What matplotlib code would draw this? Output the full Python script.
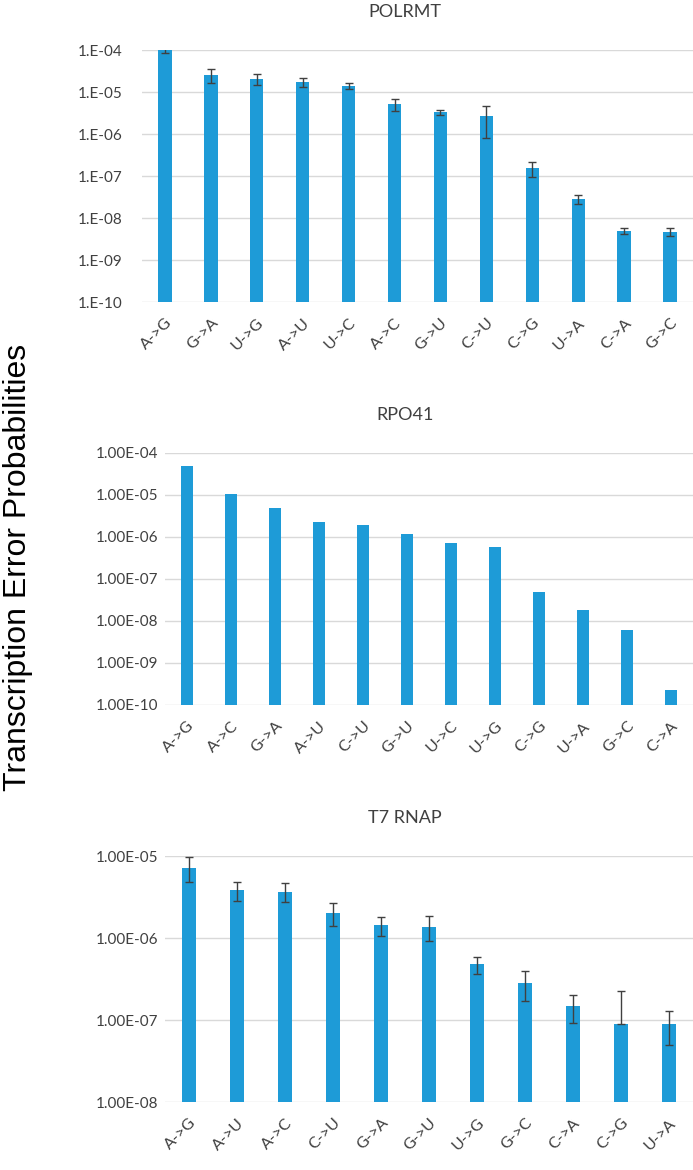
import numpy as np
import matplotlib
matplotlib.use("Agg")
import matplotlib.pyplot as plt

# POLRMT
polrmt_labels = ["A->G", "G->A", "U->G", "A->U", "U->C", "A->C", "G->U", "C->U", "C->G", "U->A", "C->A", "G->C"]
polrmt_values = [1.0e-4, 2.6e-5, 2.07e-5, 1.73e-5, 1.39e-5, 5.15e-6, 3.26e-6, 2.72e-6, 1.53e-7, 2.9e-8, 5.0e-9, 4.67e-9]
polrmt_err = [1.4e-5, 1.0e-5, 0.6e-5, 0.4e-5, 0.22e-5, 1.7e-6, 0.45e-6, 1.9e-6, 0.6e-7, 0.7e-8, 0.8e-9, 1.0e-9]
polrmt_ticks = [1e-10, 1e-9, 1e-8, 1e-7, 1e-6, 1e-5, 1e-4]
polrmt_ticklabels = ["1.E-10", "1.E-09", "1.E-08", "1.E-07", "1.E-06", "1.E-05", "1.E-04"]

# RPO41 (no error bars)
rpo41_labels = ["A->G", "A->C", "G->A", "A->U", "C->U", "G->U", "U->C", "U->G", "C->G", "U->A", "G->C", "C->A"]
rpo41_values = [4.82e-5, 1.04e-5, 4.84e-6, 2.25e-6, 1.87e-6, 1.19e-6, 7.0e-7, 5.6e-7, 4.87e-8, 1.79e-8, 5.98e-9, 2.24e-10]
rpo41_ticks = [1e-10, 1e-9, 1e-8, 1e-7, 1e-6, 1e-5, 1e-4]
rpo41_ticklabels = ["1.00E-10", "1.00E-09", "1.00E-08", "1.00E-07", "1.00E-06", "1.00E-05", "1.00E-04"]

# T7 RNAP
t7_labels = ["A->G", "A->U", "A->C", "C->U", "G->A", "G->U", "U->G", "G->C", "C->A", "C->G", "U->A"]
t7_values = [7.08e-6, 3.82e-6, 3.68e-6, 2.04e-6, 1.43e-6, 1.38e-6, 4.79e-7, 2.86e-7, 1.47e-7, 9.0e-8, 8.83e-8]
t7_err_low = [2.3e-6, 1.0e-6, 0.97e-6, 0.64e-6, 0.38e-6, 0.46e-6, 1.1e-7, 1.15e-7, 0.56e-7, 0.0, 3.9e-8]
t7_err_high = [2.6e-6, 0.96e-6, 0.97e-6, 0.64e-6, 0.38e-6, 0.48e-6, 1.15e-7, 1.15e-7, 0.56e-7, 1.37e-7, 4.1e-8]
t7_ticks = [1e-8, 1e-7, 1e-6, 1e-5]
t7_ticklabels = ["1.00E-08", "1.00E-07", "1.00E-06", "1.00E-05"]

bar_color = "#1E9BD7"
text_color = "#404040"
tick_font = ["Lato", "DejaVu Sans"]

fig = plt.figure(figsize=(6.93, 11.7), dpi=100)


def panel(rect, labels, values, ticks, ticklabels, ylim, title, err=None, width=0.28, pad=5):
    ax = fig.add_axes(rect)
    x = np.arange(len(labels))
    ax.bar(x, values, width=width, color=bar_color, zorder=2)
    if err is not None:
        ax.errorbar(x, values, yerr=err, fmt="none", ecolor="#404040",
                    elinewidth=1, capsize=3, capthick=1, zorder=3)
    ax.set_yscale("log")
    ax.set_ylim(*ylim)
    ax.set_xlim(-0.5, len(labels) - 0.5)
    ax.set_yticks(ticks)
    ax.set_yticklabels(ticklabels, fontsize=11, color=text_color, family=tick_font)
    ax.yaxis.set_minor_locator(matplotlib.ticker.NullLocator())
    ax.set_xticks(x)
    ax.set_xticklabels(labels, rotation=45, ha="right", rotation_mode="anchor",
                       fontsize=11.5, color=text_color, family=tick_font)
    ax.tick_params(axis="both", length=0)
    ax.tick_params(axis="y", pad=pad)
    ax.tick_params(axis="x", pad=10)
    ax.grid(axis="y", color="#d9d9d9", linewidth=1, zorder=0)
    for s in ax.spines.values():
        s.set_visible(False)
    fig.text(405 / 693, rect[1] + rect[3] + (38 / 1170), title, ha="center", va="center",
             fontsize=13, color=text_color, family=tick_font)
    return ax


panel([142 / 693, 1 - 302 / 1170, 551 / 693, 252 / 1170], polrmt_labels, polrmt_values,
      polrmt_ticks, polrmt_ticklabels, (1e-10, 1e-4), "POLRMT", err=polrmt_err, width=0.29, pad=14)
panel([165 / 693, 1 - 705 / 1170, 528 / 693, 252.3 / 1170], rpo41_labels, rpo41_values,
      rpo41_ticks, rpo41_ticklabels, (1e-10, 1e-4), "RPO41", width=0.27)
panel([165 / 693, 1 - 1102 / 1170, 528 / 693, 246 / 1170], t7_labels, t7_values,
      t7_ticks, t7_ticklabels, (1e-8, 1e-5), "T7 RNAP", err=[t7_err_low, t7_err_high], width=0.28)

fig.text(18 / 693, 1 - 567 / 1170, "Transcription Error Probabilities", rotation=90,
         ha="center", va="center", fontsize=23, family=["Liberation Sans", "DejaVu Sans"])

fig.savefig("out.png", dpi=100)
